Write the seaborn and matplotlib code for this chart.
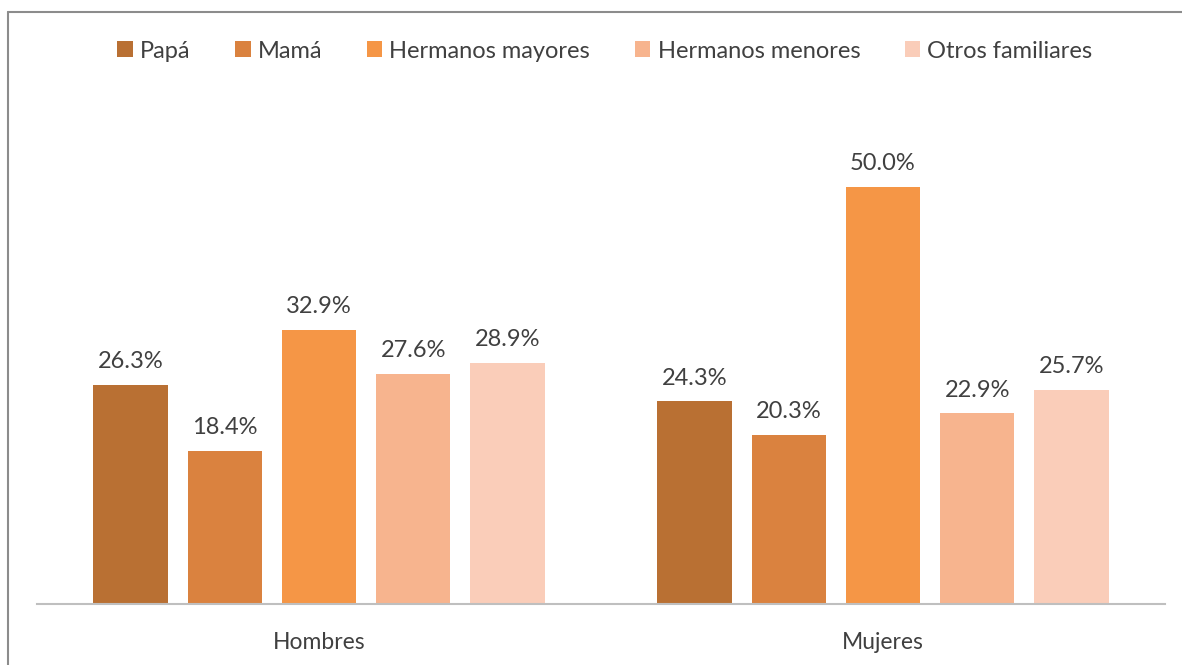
import matplotlib
matplotlib.use("Agg")
import matplotlib.pyplot as plt
import seaborn as sns
import pandas as pd
from matplotlib.lines import Line2D

grupos = ["Hombres", "Mujeres"]
familiares = ["Papá", "Mamá", "Hermanos mayores", "Hermanos menores", "Otros familiares"]
hombres = [26.3, 18.4, 32.9, 27.6, 28.9]
mujeres = [24.3, 20.3, 50.0, 22.9, 25.7]
colores = ["#B97033", "#DA823F", "#F59646", "#F7B48E", "#FACDB9"]

rows = []
for g, vals in zip(grupos, [hombres, mujeres]):
    for f, v in zip(familiares, vals):
        rows.append({"grupo": g, "familiar": f, "valor": v})
df = pd.DataFrame(rows)

sns.set_theme(style="white")
plt.rcParams["font.family"] = ["Lato", "DejaVu Sans"]

fig = plt.figure(figsize=(11.82, 6.65), dpi=100)
W, H = 1182, 665
ax = fig.add_axes([37 / W, 1 - 604 / H, (1165 - 37) / W, (604 - 90) / H])

sns.barplot(data=df, x="grupo", y="valor", hue="familiar", order=grupos,
            hue_order=familiares, palette=colores, width=0.835, gap=0.21,
            saturation=1, ax=ax, linewidth=0)

ax.set_xlim(-0.5, 1.5)
ax.set_ylim(0, (604 - 90) / 8.34)
for c in ax.containers:
    ax.bar_label(c, labels=[f"{v:.1f}%" for v in c.datavalues], padding=9,
                 fontsize=17, color="#404040")

ax.set_xlabel("")
ax.set_ylabel("")
ax.set_yticks([])
ax.tick_params(axis="x", length=0, labelsize=16.5, labelcolor="#404040", pad=20)
for s in ["top", "right", "left"]:
    ax.spines[s].set_visible(False)
ax.spines["bottom"].set_color("#BFBFBF")
ax.spines["bottom"].set_linewidth(1.5)

handles, labels = ax.get_legend_handles_labels()
ax.legend(handles, labels, loc="center", bbox_to_anchor=(605 / W, 1 - 51 / H),
          bbox_transform=fig.transFigure, ncol=5, frameon=False, fontsize=17,
          handlelength=0.65, handleheight=0.65, handletextpad=0.3,
          columnspacing=1.9, labelcolor="#404040")

fig.add_artist(Line2D([8 / W, 1], [1 - 12 / H, 1 - 12 / H], transform=fig.transFigure,
                      color="#8C8C8C", linewidth=1.5))
fig.add_artist(Line2D([8 / W, 8 / W], [0, 1 - 12 / H], transform=fig.transFigure,
                      color="#8C8C8C", linewidth=1.5))

fig.savefig("out.png", dpi=100, facecolor="white")
